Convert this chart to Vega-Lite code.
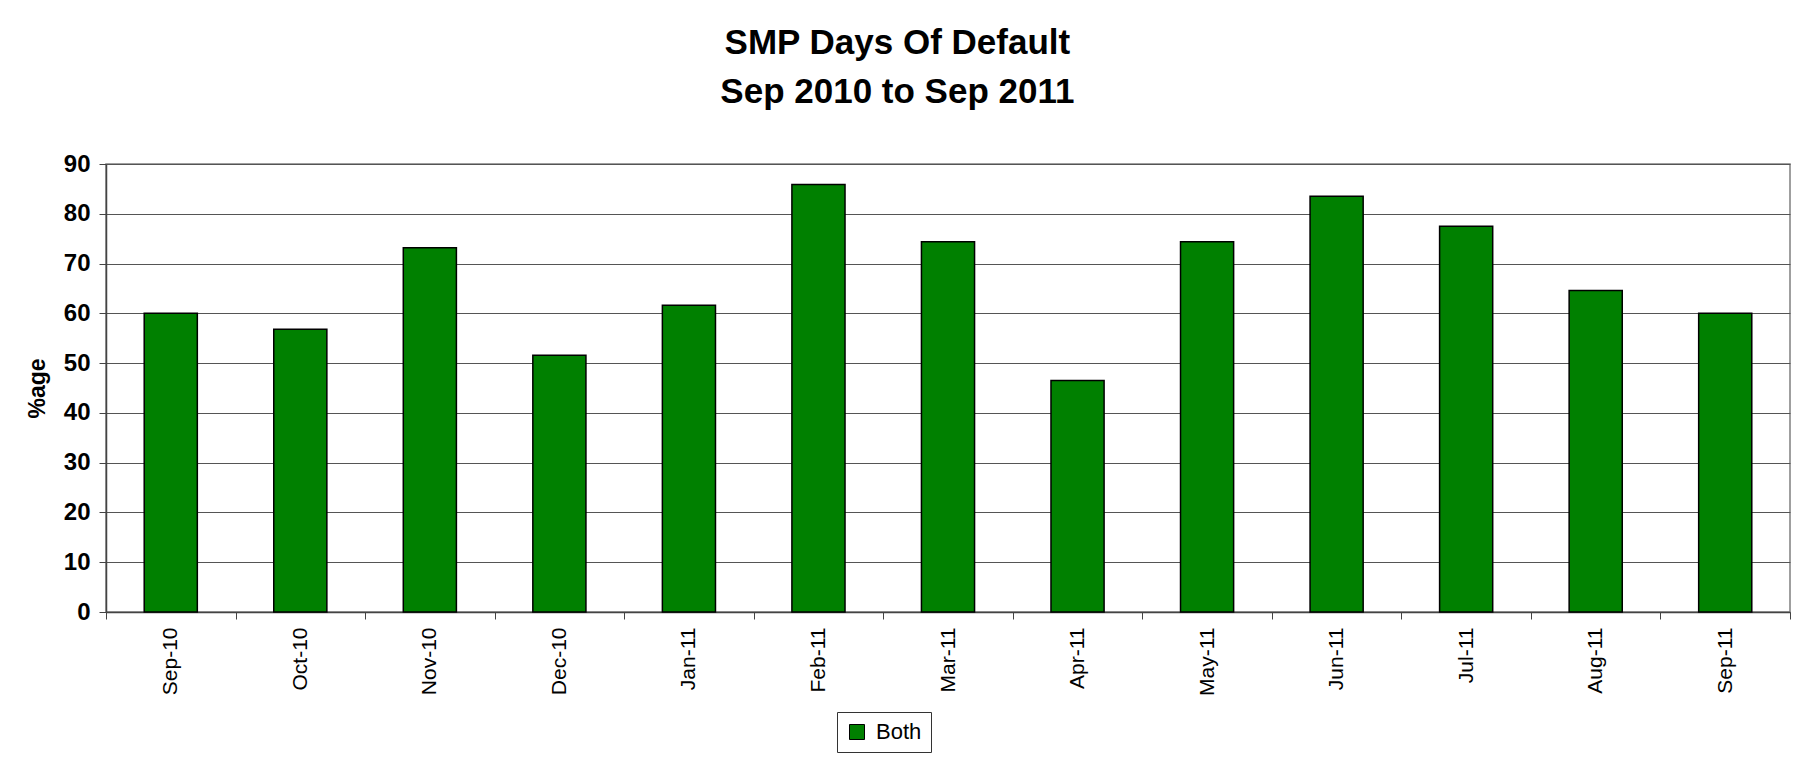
{
  "$schema": "https://vega.github.io/schema/vega-lite/v6.json",
  "autosize": "none",
  "width": 1684,
  "height": 448,
  "padding": {"left": 106, "top": 164, "right": 25, "bottom": 171},
  "background": "white",
  "title": {
    "text": ["SMP Days Of Default", "Sep 2010 to Sep 2011"],
    "font": "Liberation Sans",
    "fontSize": 35,
    "fontWeight": "bold",
    "color": "black",
    "lineHeight": 49,
    "anchor": "middle",
    "frame": "bounds",
    "offset": 42,
    "dx": -11
  },
  "data": {
    "values": [
      {"month": "Sep-10", "pct": 60.0, "series": "Both"},
      {"month": "Oct-10", "pct": 56.8, "series": "Both"},
      {"month": "Nov-10", "pct": 73.2, "series": "Both"},
      {"month": "Dec-10", "pct": 51.6, "series": "Both"},
      {"month": "Jan-11", "pct": 61.6, "series": "Both"},
      {"month": "Feb-11", "pct": 85.9, "series": "Both"},
      {"month": "Mar-11", "pct": 74.4, "series": "Both"},
      {"month": "Apr-11", "pct": 46.5, "series": "Both"},
      {"month": "May-11", "pct": 74.4, "series": "Both"},
      {"month": "Jun-11", "pct": 83.5, "series": "Both"},
      {"month": "Jul-11", "pct": 77.5, "series": "Both"},
      {"month": "Aug-11", "pct": 64.6, "series": "Both"},
      {"month": "Sep-11", "pct": 60.0, "series": "Both"}
    ]
  },
  "mark": {"type": "bar", "width": {"band": 0.41}, "stroke": "black", "strokeWidth": 1.5},
  "encoding": {
    "x": {
      "field": "month",
      "type": "nominal",
      "sort": null,
      "scale": {"paddingInner": 0, "paddingOuter": 0},
      "axis": {
        "title": null,
        "labelAngle": -90,
        "labelFont": "Liberation Sans",
        "labelFontSize": 21,
        "labelColor": "black",
        "labelPadding": 8,
        "tickBand": "extent",
        "tickSize": 7,
        "tickColor": "#444",
        "domainColor": "#444",
        "domainWidth": 1.5,
        "grid": false
      }
    },
    "y": {
      "field": "pct",
      "type": "quantitative",
      "scale": {"domain": [0, 90], "nice": false},
      "axis": {
        "title": "%age",
        "titleFont": "Liberation Sans",
        "titleFontSize": 23,
        "titleFontWeight": "bold",
        "titleColor": "black",
        "titlePadding": 14,
        "values": [0, 10, 20, 30, 40, 50, 60, 70, 80, 90],
        "labelFont": "Liberation Sans",
        "labelFontSize": 24,
        "labelFontWeight": "bold",
        "labelColor": "black",
        "labelPadding": 9,
        "tickSize": 7,
        "tickColor": "#444",
        "domainColor": "#444",
        "domainWidth": 1.5,
        "grid": true,
        "gridColor": "#555",
        "gridWidth": 1
      }
    },
    "color": {
      "field": "series",
      "type": "nominal",
      "scale": {"range": ["#008000"]},
      "legend": {
        "title": null,
        "orient": "none",
        "legendX": 731,
        "legendY": 548,
        "symbolType": "square",
        "symbolSize": 225,
        "symbolStrokeColor": "black",
        "symbolStrokeWidth": 1,
        "symbolOpacity": 1,
        "labelFont": "Liberation Sans",
        "labelFontSize": 22,
        "labelColor": "black",
        "labelOffset": 8,
        "padding": 9,
        "fillColor": "white",
        "strokeColor": "#333"
      }
    }
  },
  "config": {
    "view": {"stroke": "#808080", "strokeWidth": 1.5},
    "bar": {"opacity": 1}
  }
}
